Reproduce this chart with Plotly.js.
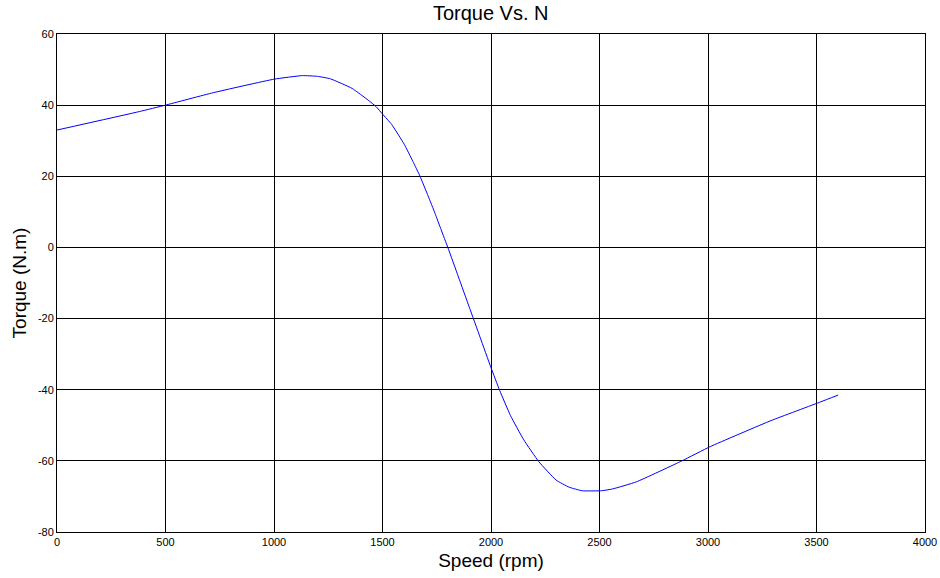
<!DOCTYPE html>
<html>
<head>
<meta charset="utf-8">
<script src="https://cdn.plot.ly/plotly-3.0.1.min.js"></script>
<style>html,body{margin:0;padding:0;background:#fff;}#chart{width:940px;height:578px;}</style>
</head>
<body>
<div id="chart"></div>
<script>
const speed = [0, 380, 500, 720, 1000, 1130, 1200, 1260, 1360, 1434, 1470, 1500, 1542, 1600, 1640, 1673, 1710, 1742, 1770, 1801, 1850, 1900, 1950, 2000, 2040, 2090, 2151, 2220, 2300, 2360, 2420, 2510, 2560, 2670, 2880, 3010, 3290, 3520, 3600];
const torque = [33, 38.2, 40, 43.5, 47.3, 48.3, 48.1, 47.4, 44.7, 41.4, 39.6, 37.5, 34.6, 29, 24.2, 20, 14.5, 9.6, 5, 0, -8.3, -16.8, -25.3, -33.8, -40.2, -47.3, -54.1, -60.2, -65.4, -67.4, -68.4, -68.4, -67.9, -65.9, -60, -56, -48.7, -43.4, -41.5];
const xTicks = [0, 500, 1000, 1500, 2000, 2500, 3000, 3500, 4000];
const yTicks = [-80, -60, -40, -20, 0, 20, 40, 60];

const font = "Liberation Sans, Arial, sans-serif";
Plotly.newPlot('chart', [{
  x: speed, y: torque, type: 'scatter', mode: 'lines',
  line: {color: '#0000ff', width: 1, shape: 'spline', smoothing: 0.4}
}], {
  width: 940, height: 578,
  margin: {l: 57, r: 15, t: 34, b: 46},
  paper_bgcolor: '#fff', plot_bgcolor: '#fff',
  showlegend: false,
  font: {family: font, color: '#000'},
  title: {text: 'Torque Vs. N', font: {family: font, size: 20, color: '#000'}, x: 0.522, xanchor: 'center', yref: 'container', y: 1 - 13/578, yanchor: 'middle'},
  xaxis: {
    range: [0, 4000], tickvals: xTicks, ticktext: xTicks.map(String),
    showgrid: true, gridcolor: '#000', gridwidth: 1, zeroline: false,
    showline: true, linecolor: '#000', linewidth: 1, mirror: 'ticks',
    ticks: 'inside', ticklen: 5, tickcolor: '#000',
    tickfont: {family: font, size: 11, color: '#000'},
    title: {text: 'Speed (rpm)', font: {family: font, size: 19, color: '#000'}, standoff: 6}
  },
  yaxis: {
    range: [-80, 60], tickvals: yTicks, ticktext: yTicks.map(String),
    showgrid: true, gridcolor: '#000', gridwidth: 1, zeroline: false,
    showline: true, linecolor: '#000', linewidth: 1, mirror: 'ticks',
    ticks: 'inside', ticklen: 5, tickcolor: '#000',
    tickfont: {family: font, size: 11, color: '#000'},
    title: {text: 'Torque (N.m)', font: {family: font, size: 19, color: '#000'}, standoff: 6}
  }
}, {displayModeBar: false, staticPlot: true});
</script>
</body>
</html>
